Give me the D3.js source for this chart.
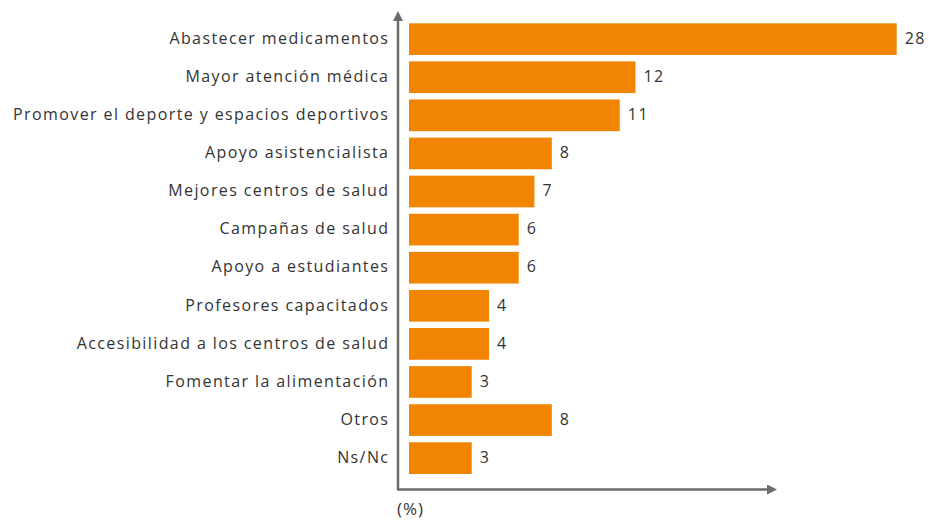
<!DOCTYPE html>
<html>
<head>
<meta charset="utf-8">
<script src="https://cdn.jsdelivr.net/npm/d3@7"></script>
<style>
  body { margin: 0; background: #fff; }
  svg text { font-family: "Open Sans", sans-serif; fill: #333; }
</style>
</head>
<body>
<div id="chart"></div>
<script>
// categories, top to bottom
const categories = [
    'Abastecer medicamentos',
    'Mayor atención médica',
    'Promover el deporte y espacios deportivos',
    'Apoyo asistencialista',
    'Mejores centros de salud',
    'Campañas de salud',
    'Apoyo a estudiantes',
    'Profesores capacitados',
    'Accesibilidad a los centros de salud',
    'Fomentar la alimentación',
    'Otros',
    'Ns/Nc'
];
// bar lengths (%)
const values = [28.0, 13.0, 12.1, 8.2, 7.2, 6.3, 6.3, 4.6, 4.6, 3.6, 8.2, 3.6];
// printed labels
const shown = ['28', '12', '11', '8', '7', '6', '6', '4', '4', '3', '8', '3'];

const width = 929;
const height = 521;

const svg = d3.select('#chart')
    .append('svg')
    .attr('width', width)
    .attr('height', height);

const x = d3.scaleLinear()
    .domain([0, 28])
    .range([409, 896.7]);

const y = d3.scaleBand()
    .domain(categories)
    .range([20.1, 477.2])
    .paddingInner(0.168)
    .paddingOuter(0.084);

// arrowhead
svg.append('defs').append('marker')
    .attr('id', 'arrow')
    .attr('viewBox', '0 0 10 10')
    .attr('refX', 5)
    .attr('refY', 5)
    .attr('markerWidth', 4)
    .attr('markerHeight', 4)
    .attr('markerUnits', 'strokeWidth')
    .attr('orient', 'auto')
    .append('path')
    .attr('d', 'M0,0 L10,5 L0,10 Z')
    .attr('fill', '#6b6b6b');

svg.selectAll('.bar')
    .data(categories)
    .enter()
    .append('rect')
    .attr('class', 'bar')
    .attr('x', x(0))
    .attr('y', d => y(d))
    .attr('width', (d, i) => x(values[i]) - x(0))
    .attr('height', y.bandwidth())
    .attr('fill', '#f18400');

svg.selectAll('.cat')
    .data(categories)
    .enter()
    .append('text')
    .attr('class', 'cat')
    .attr('x', 389.4)
    .attr('y', d => y(d) + y.bandwidth() / 2)
    .attr('dy', '0.3em')
    .attr('text-anchor', 'end')
    .attr('font-size', 16)
    .attr('letter-spacing', 1.4)
    .text(d => d);

svg.selectAll('.val')
    .data(categories)
    .enter()
    .append('text')
    .attr('class', 'val')
    .attr('x', (d, i) => x(values[i]) + 8)
    .attr('y', d => y(d) + y.bandwidth() / 2)
    .attr('dy', '0.3em')
    .attr('font-size', 16)
    .attr('letter-spacing', 1.5)
    .text((d, i) => shown[i]);

// axes with arrows
svg.append('line')
    .attr('x1', 398).attr('y1', 490)
    .attr('x2', 398).attr('y2', 16)
    .attr('stroke', '#6b6b6b')
    .attr('stroke-width', 2.5)
    .attr('marker-end', 'url(#arrow)');

svg.append('line')
    .attr('x1', 397).attr('y1', 489.5)
    .attr('x2', 772).attr('y2', 489.5)
    .attr('stroke', '#6b6b6b')
    .attr('stroke-width', 2.5)
    .attr('marker-end', 'url(#arrow)');

svg.append('text')
    .attr('x', 397)
    .attr('y', 515)
    .attr('font-size', 17)
    .attr('letter-spacing', 1)
    .text('(%)');
</script>
</body>
</html>
